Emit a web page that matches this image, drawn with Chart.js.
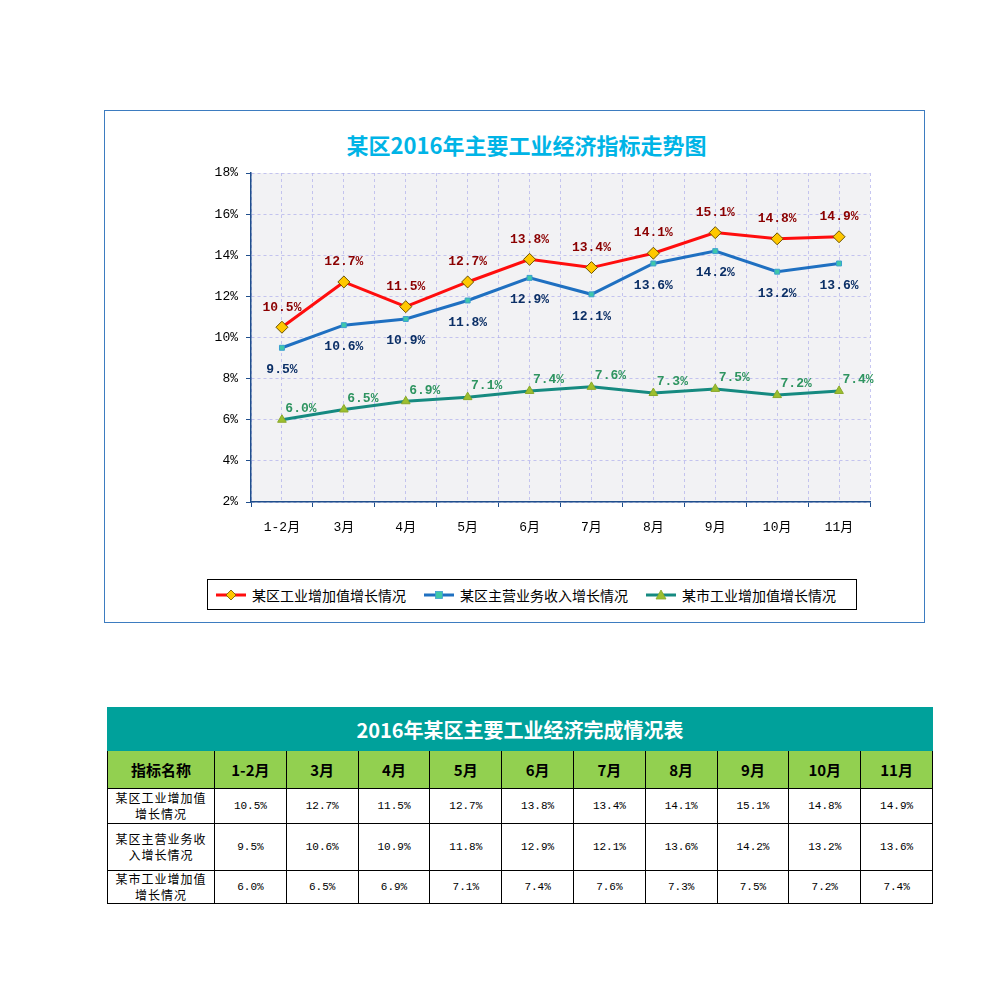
<!DOCTYPE html>
<html>
<head>
<meta charset="utf-8">
<script src="https://cdn.jsdelivr.net/npm/chart.js@4"></script>
<style>
  body { margin: 0; background: #fff; width: 1005px; height: 1001px; position: relative; font-family: "Noto Sans CJK SC", sans-serif; }
  #box { position: absolute; left: 104px; top: 110px; width: 819px; height: 511px; border: 1px solid #3d7cc0; background: #fff; }
  #title { position: absolute; left: 0; width: 843px; top: 17px; text-align: center; font-size: 22px; font-weight: bold; color: #00b4e6; }
  #wrap { position: absolute; left: 0; top: 0; width: 819px; height: 460px; }
  #legend { position: absolute; left: 102px; top: 468px; width: 648px; height: 29px; border: 1px solid #000; display: flex; align-items: center; font-size: 14px; color: #000; }
  #legend span { display: flex; align-items: center; margin-left: 8px; margin-right: 10px; }
  #legend svg { margin-right: 6px; }
  table { position: absolute; left: 107px; top: 707px; width: 826px; border-collapse: collapse; table-layout: fixed; }
  td, th { border: 1px solid #000; text-align: center; padding: 0; }
  .t { background: #00a19b; color: #fff; font-size: 20px; font-weight: bold; height: 42px; border-color: #00a19b; }
  .h th { background: #92d050; font-size: 15px; font-weight: bold; height: 37px; }
  .r td { font-family: "Liberation Mono", "Noto Sans CJK SC", monospace; font-size: 11px; }
  .r td.n { font-family: "Noto Sans CJK SC", sans-serif; font-size: 12px; line-height: 16px; letter-spacing: 1px; }
</style>
</head>
<body>
<div id="box">
  <div id="title">某区2016年主要工业经济指标走势图</div>
  <div id="wrap"><canvas id="myChart"></canvas></div>
  <div id="legend"></div>
</div>
<table id="tbl"></table>
<script>
var categories = ['1-2月', '3月', '4月', '5月', '6月', '7月', '8月', '9月', '10月', '11月'];
var seriesNames = ['某区工业增加值增长情况', '某区主营业务收入增长情况', '某市工业增加值增长情况'];
var industryValues = [10.5, 12.7, 11.5, 12.7, 13.8, 13.4, 14.1, 15.1, 14.8, 14.9];
var revenueValues = [9.5, 10.6, 10.9, 11.8, 12.9, 12.1, 13.6, 14.2, 13.2, 13.6];
var cityValues = [6.0, 6.5, 6.9, 7.1, 7.4, 7.6, 7.3, 7.5, 7.2, 7.4];
var yTicks = [2, 4, 6, 8, 10, 12, 14, 16, 18];
var rowNames = ['某区工业增加值<br>增长情况', '某区主营业务收<br>入增长情况', '某市工业增加值<br>增长情况'];

// background of plot area
var plotBg = {
    id: 'plotBg',
    beforeDraw: function (chart) {
        var a = chart.chartArea, ctx = chart.ctx;
        ctx.save();
        ctx.fillStyle = '#f2f2f4';
        ctx.fillRect(a.left, a.top, a.right - a.left, a.bottom - a.top);
        ctx.restore();
    }
};

// value labels next to points
var valueLabels = {
    id: 'valueLabels',
    afterDatasetsDraw: function (chart) {
        var ctx = chart.ctx;
        ctx.save();
        ctx.font = 'bold 13px "Liberation Mono", monospace';
        ctx.textAlign = 'center';
        ctx.textBaseline = 'middle';
        chart.data.datasets.forEach(function (ds, i) {
            var meta = chart.getDatasetMeta(i);
            ctx.fillStyle = ds.labelColor;
            meta.data.forEach(function (pt, j) {
                ctx.fillText(ds.data[j].toFixed(1) + '%', pt.x + ds.labelDx, pt.y + ds.labelDy);
            });
        });
        ctx.restore();
    }
};

var gridColor = 'rgba(175,175,235,0.7)';
var axisColor = '#1f4e8c';
var tickFont = { family: '"Liberation Mono", "Noto Sans CJK SC", monospace', size: 13 };

var ctx = document.getElementById('myChart').getContext('2d');
var myChart = new Chart(ctx, {
    type: 'line',
    data: {
        labels: categories,
        datasets: [{
            label: seriesNames[0],
            data: industryValues,
            borderColor: '#ff0d0d',
            borderWidth: 3,
            pointStyle: 'rectRot',
            pointRadius: 6,
            pointBackgroundColor: '#ffc800',
            pointBorderColor: '#6b5200',
            pointBorderWidth: 1,
            labelColor: '#8b0000',
            labelDx: 0,
            labelDy: -20
        }, {
            label: seriesNames[1],
            data: revenueValues,
            borderColor: '#1f70c1',
            borderWidth: 3,
            pointStyle: 'rect',
            pointRadius: 3.5,
            pointBackgroundColor: '#3fc8a8',
            pointBorderColor: '#3aa0d0',
            pointBorderWidth: 1,
            labelColor: '#0b2f66',
            labelDx: 0,
            labelDy: 22
        }, {
            label: seriesNames[2],
            data: cityValues,
            borderColor: '#168a80',
            borderWidth: 3,
            pointStyle: 'triangle',
            pointRadius: 5,
            pointBackgroundColor: '#9cbf2e',
            pointBorderColor: '#8aa82a',
            pointBorderWidth: 1,
            labelColor: '#2e9460',
            labelDx: 19,
            labelDy: -11
        }]
    },
    options: {
        responsive: true,
        maintainAspectRatio: false,
        animation: false,
        layout: { padding: { left: 106, top: 62, right: 54, bottom: 29 } },
        plugins: {
            legend: { display: false },
            tooltip: { enabled: false }
        },
        elements: { line: { tension: 0 } },
        scales: {
            x: {
                offset: true,
                grid: { offset: true, color: gridColor, tickColor: axisColor, tickLength: 5, tickBorderDash: [] },
                border: { display: true, color: axisColor, width: 1.5, dash: [3, 3] },
                ticks: { color: '#000', font: tickFont, padding: 13, maxRotation: 0 },
                afterFit: function (s) { s.height = 40; }
            },
            x2: {
                position: 'bottom',
                offset: true,
                grid: { offset: false, color: gridColor, drawTicks: false },
                border: { display: false, dash: [3, 3] },
                ticks: { display: false },
                afterFit: function (s) { s.height = 0; }
            },
            y: {
                min: 2,
                max: 18,
                afterBuildTicks: function (s) { s.ticks = yTicks.map(function (v) { return { value: v }; }); },
                grid: { color: gridColor, tickColor: axisColor, tickLength: 5, tickBorderDash: [] },
                border: { display: true, color: axisColor, width: 1.5, dash: [3, 3] },
                ticks: {
                    color: '#000', font: tickFont, padding: 8,
                    callback: function (v) { return v + '%'; }
                },
                afterFit: function (s) { s.width = 40; }
            }
        }
    },
    plugins: [plotBg, valueLabels]
});

// legend
var legendSamples = [
    '<svg width="30" height="12"><line x1="0" y1="6" x2="30" y2="6" stroke="#ff0d0d" stroke-width="3"/><polygon points="15,1 20,6 15,11 10,6" fill="#ffc800" stroke="#6b5200" stroke-width="0.8"/></svg>',
    '<svg width="30" height="12"><line x1="0" y1="6" x2="30" y2="6" stroke="#1f70c1" stroke-width="3"/><rect x="11.5" y="2.5" width="7" height="7" fill="#3fc8a8" stroke="#3aa0d0" stroke-width="0.8"/></svg>',
    '<svg width="30" height="12"><line x1="0" y1="6" x2="30" y2="6" stroke="#168a80" stroke-width="3"/><polygon points="15,1 20,10 10,10" fill="#9cbf2e" stroke="#8aa82a" stroke-width="0.8"/></svg>'
];
document.getElementById('legend').innerHTML = seriesNames.map(function (n, i) {
    return '<span>' + legendSamples[i] + n + '</span>';
}).join('');

// table
var allValues = [industryValues, revenueValues, cityValues];
var rowHeights = [35, 47, 33];
var html = '<colgroup><col style="width:107px">' + categories.map(function () { return '<col>'; }).join('') + '</colgroup>';
html += '<tr><td class="t" colspan="' + (categories.length + 1) + '">2016年某区主要工业经济完成情况表</td></tr>';
html += '<tr class="h"><th>指标名称</th>' + categories.map(function (c) { return '<th>' + c + '</th>'; }).join('') + '</tr>';
allValues.forEach(function (vals, i) {
    html += '<tr class="r" style="height:' + rowHeights[i] + 'px"><td class="n">' + rowNames[i] + '</td>' +
        vals.map(function (v) { return '<td>' + v.toFixed(1) + '%</td>'; }).join('') + '</tr>';
});
document.getElementById('tbl').innerHTML = html;
</script>
</body>
</html>
